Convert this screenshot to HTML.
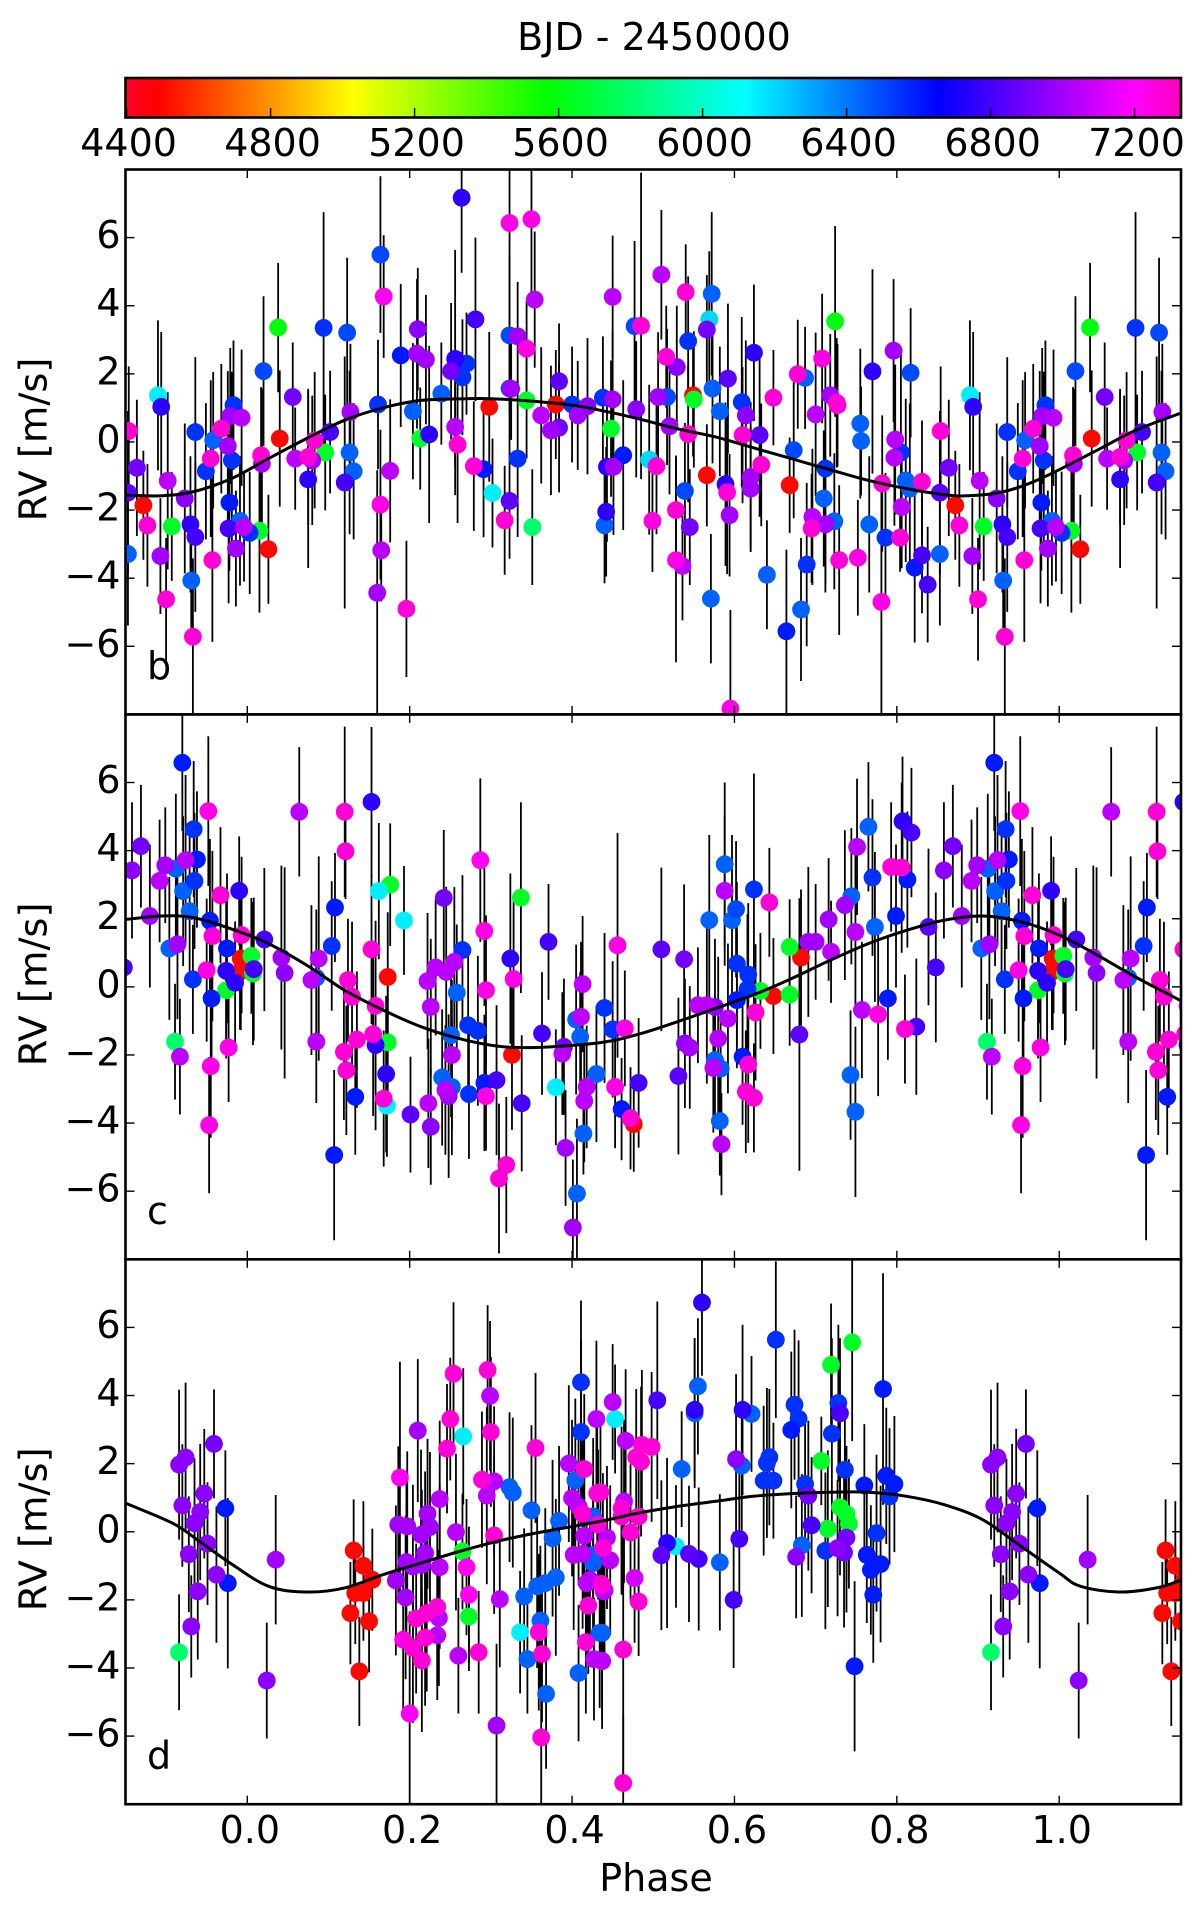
<!DOCTYPE html>
<html lang="en">
<head>
<meta charset="utf-8">
<title>RV residuals vs phase</title>
<style>
html,body{margin:0;padding:0;background:#fff;}
svg{display:block;}
text{font-family:"DejaVu Sans","Liberation Sans",sans-serif;fill:#000;}
</style>
</head>
<body>
<svg id="chart" xmlns="http://www.w3.org/2000/svg" width="1200" height="1918" viewBox="0 0 1200 1918">
<defs>
<linearGradient id="cbar-grad" x1="0" x2="1" y1="0" y2="0">
<stop offset="0" stop-color="#ff0029"/>
<stop offset="0.03" stop-color="#ff0000"/>
<stop offset="0.215" stop-color="#ffff00"/>
<stop offset="0.4" stop-color="#00ff00"/>
<stop offset="0.586" stop-color="#00ffff"/>
<stop offset="0.77" stop-color="#0000ff"/>
<stop offset="0.954" stop-color="#ff00ff"/>
<stop offset="1" stop-color="#ff00bf"/>
</linearGradient>
</defs>
<text x="654" y="50" font-size="38" text-anchor="middle">BJD - 2450000</text>
<rect x="125.5" y="78" width="1055.5" height="39.5" fill="url(#cbar-grad)" stroke="#000" stroke-width="2.6"/>
<g id="cbar-ticks"></g>
<g id="panels"></g>
<text x="656" y="1891" font-size="38" text-anchor="middle">Phase</text>
</svg>
<script>
const phaseB=[.038,.02,.056,.094,.123,.164,.168,.189,.21,.209,
.22,.239,.251,.256,.27,.265,.264,.281,.323,.35,
.354,.323,.333,.344,.323,.325,.344,.384,.38,.4,
.419,.438,.45,.45,.477,.485,.51,.54,.572,.569,
.566,.543,.516,.529,.592,.624,.678,.687,.708,.724,
.77,.796,.817,.89,.506,.517,.549,.55,.573,.609,
.648,.718,.726,.442,.44,.443,.451,.448,.463,.479,
.495,.504,.499,.52,.543,.528,.545,.539,.566,.589,
.591,.594,.528,.536,.571,.582,.614,.61,.631,.62,
.62,.633,.668,.673,.64,.7,.712,.71,.696,.695,
.712,.723,.689,.682,.664,.729,.752,.727,.755,.756,
.766,.782,.786,.804,.781,.798,.797,.805,.811,.816,
.806,.831,.854,.864,.853,.872,.877,.853,.831,.822,
.838,.894,.902,.907,.893,.9,.923,.93,.936,.931,
.933,.936,.958,.968,.979,.993,.983,.976,.955,.949,
.981,.978,.991,.977,.996,.003,.015,.986,.957,.017,
.018,.04,.026,.059,.075,.08,.083,.102,.096,.075,
.126,.131,.12,.127,.161,.164,.176,.165,.16,.196,
.204,.213,.224,.256,.259,.298,.279,.291,.333,.302,
.323,.317,.351,.362,.374,.384,.407,.595];
const rvB=[3.36,2.08,1.32,3.35,3.21,5.5,4.27,2.54,3.31,2.59,
2.42,1.42,2.08,2.44,2.3,1.9,7.17,3.6,6.43,6.54,
4.18,3.13,3.1,2.74,1.57,1.56,1.22,1.78,1.1,1.1,
1.05,1.3,1.25,4.26,3.4,3.41,4.91,4.4,4.35,3.6,
3.3,2.96,2.5,2.2,1.86,2.62,1.99,1.88,2.45,3.54,
2.07,2.68,2.03,1.37,1.32,1.32,1.37,1.25,1.57,1.17,
1.3,1.37,1.15,-2.05,-2.45,-.73,-.73,.39,-.39,.96,
-.52,-.71,-2.32,.46,.23,-2,-2.5,-1.44,-.98,-1.24,
-1.48,-2.15,-3.47,-3.64,-4.6,.9,.78,.2,.2,-1.03,
-1.37,-.67,-1.27,-.24,-3.9,.81,-.78,-1.66,-2.2,-2.54,
-2.42,-2.33,-3.6,-4.92,-5.56,-3.47,-3.4,1.08,.54,.03,
-2.42,-1.22,-2.81,-2.81,-4.7,.07,-.46,-.31,-1.13,-1.37,
-1.91,-1.17,.32,-.76,-1.49,-1.86,-2.45,-3.29,-3.33,-3.69,
-4.19,1.03,-1.14,-2.48,-3.35,-4.62,-1.66,-2.42,-2.79,-4.07,
-5.72,.29,.05,.39,.76,.71,1.08,-.12,-.49,-.86,
-.54,-1.78,-2.32,-2.54,-2.5,-2.67,-2.61,-3.13,-3.47,-.39,
-.64,.1,-3.15,-.49,-.44,-.54,.05,.29,-.31,-1.1,
-.31,-.86,-1.19,.88,1.1,-1.84,-.85,-3.18,-4.43,-4.9,
.9,.1,.22,.44,-.08,1.03,-.71,-.8,-.49,-1.5,
-1.73,-2.3,-2.5,.78,.34,.42,.78,-7.83];
const errB=[1.9,2.2,1.6,3.4,2.2,2.3,1.8,2.1,1.8,2.2,
1.9,1.5,2,3.2,1.5,1.7,2.2,2.4,3,2.5,
2,2.3,1.6,1.4,1.6,1.5,1.7,1.7,1.6,1.7,
2,1.8,2,1.8,2.5,4.5,1.9,1.4,2.4,2,
1.6,1.9,1.5,1.8,2.2,2,1.6,1.5,1.9,2.8,
3,2.1,1.9,2.2,1.9,2,1.8,2,2.2,2.5,
1.4,1.8,1.9,1.9,1.7,2.2,2,2,2.2,2,
2.2,2,1.5,2,2,1.6,1.7,2,1.5,2.4,
2.4,1.8,3,1.6,1.9,1.9,2.2,2,2.4,2.2,
1.8,1.8,1.4,2,1.6,2.4,3.4,2,2,1.6,
2,2,2.4,2.1,2.4,2.2,1.7,1.8,2.2,1.6,
2,2,1.9,1,3.3,2.2,2,3,2.4,2.5,
1.8,1.8,1.9,2,2.4,1.6,1.8,2.1,1.7,2.2,
1.7,2.2,2.6,1.6,1.7,1.8,2.2,2,2.2,1.4,
2.3,2.2,2,1.9,2,2,1.9,2.2,2.3,2,
2.6,2,1.9,2.2,1.6,1.8,2.4,1.7,2.4,2,
2.2,2,1.6,1.5,2,1.9,2,1.8,1.7,2.6,
2.4,2,3.7,2,1.9,2.2,2.1,1.5,3.6,2,
2,1.5,2.6,2,2.3,2.2,1.9,2,2.3,1.6,
1.7,1.6,1.7,2,1.9,1.9,1.6,2.9];
const bjdB=[5600,6500,6900,6550,6500,6500,7220,6600,6950,7000,
7000,6450,6900,6750,6550,6550,6750,6800,7250,7250,
7050,6500,7000,7250,6500,7000,5650,6850,4500,6550,
6950,6550,7000,7050,6500,7280,7050,7280,6450,6200,
6900,6550,7280,6950,6850,6750,7280,6450,7250,5600,
6750,7000,6500,6150,7000,6500,4500,5650,6450,6550,
7280,7000,7280,6750,6450,6750,7000,5650,6600,6950,
6200,7280,7250,7000,7280,7280,6900,6500,4500,6750,
7280,7000,7250,7050,6450,6450,6950,7280,6850,7000,
7000,7280,4500,6500,6450,7050,6550,6450,7050,7280,
7000,6450,6550,6450,6600,7280,7250,7280,6450,6450,
6450,7280,6550,7280,7250,7050,7050,6550,6450,6450,
7050,7280,7280,6900,6850,4500,7280,6450,6800,6600,
6800,6750,7050,5650,7000,7280,6950,6750,6800,6450,
7280,6550,6450,7280,7000,7050,6550,7000,7280,6550,
6550,6600,6450,6800,7050,6550,5650,7000,7280,7280,
7000,4500,4500,7050,7280,7000,7280,6800,5650,6750,
6450,6450,6800,7000,6550,7250,7050,7050,7000,7280,
6450,5650,6750,7050,7280,4500,7280,6600,6550,6150,
6850,7280,5800,7050,7000,6900,7000,7250];

const phaseC=[.021,.042,.046,.064,.085,.085,.079,.088,.104,.108,
.107,.119,.122,.12,.121,.124,.129,.135,.133,.153,
.153,.158,.155,.158,.162,.176,.173,.173,.171,.168,
.172,.193,.201,.222,.232,.245,.255,.226,.223,.226,
.242,.265,.258,.251,.272,.284,.252,.24,.252,.244,
.248,.273,.292,.307,.294,.287,.292,.294,.326,.324,
.328,.337,.338,.31,.319,.371,.363,.39,.388,.38,
.413,.411,.405,.41,.418,.415,.43,.414,.392,.406,
.401,.44,.45,.465,.456,.51,.453,.482,.461,.472,
.476,.538,.555,.566,.576,.592,.539,.545,.58,.531,
.569,.588,.588,.597,.602,.624,.643,.603,.617,.616,
.603,.632,.648,.626,.668,.668,.682,.68,.61,.576,
.583,.574,.617,.614,.624,.582,.584,.691,.7,.719,
.716,.736,.744,.749,.751,.765,.77,.773,.757,.777,
.789,.743,.749,.793,.806,.807,.818,.813,.799,.81,
.824,.839,.858,.869,.848,.88,.892,.899,.912,.924,
.938,.935,.921,.929,.954,.92,.934,.952,.967,.99,
.957,.904,.914,.975,.993,.95,.933,.956,.974,.985,
.974,.992,.991,.005,.008,.007,.911,.917,.955,.977,
.953];
const rvC=[1.39,.86,.41,5.14,-1.61,.27,.2,.83,1.2,2.33,
-4.94,-1.91,-2.45,5.14,3.98,.2,-.29,-1.55,-3.23,5.43,
1.1,-.56,-1.39,-1.71,2.81,3,.29,-1.63,-2.56,-3.28,
-3.49,1.95,-3.75,.17,.57,.44,.73,-.59,-3.42,-4.11,
2.61,1.08,-.17,-1.42,-1.13,-1.29,-2,-2.66,-2.94,-3.03,
-3.21,-3.15,-2.82,-2.74,-3.21,3.72,1.64,-.1,-2,.83,
.23,2.62,-3.42,-5.63,-5.23,1.32,-1.37,-1.76,-1.96,-2.95,
.08,-.88,-.96,-1.47,-2.94,-3.35,-2.56,-4.31,-4.73,-6.07,
-7.07,-.62,-1.25,-1.22,1.22,1.1,-2.94,-2.82,-3.59,-3.86,
-4.03,.81,-.54,-.54,-.59,-.93,-1.66,-1.78,-1.52,-2.62,
1.96,3.6,2.82,1.96,2.28,2.86,2.48,.68,.36,-.07,
-.39,-.12,-.27,-.75,1.17,-.23,.86,-1.4,-2.05,-2.15,
-2.4,-2.38,-2.28,-3.08,-3.26,-3.94,-4.62,1.32,1.32,1.03,
1.98,2.4,2.66,1.61,4.11,4.7,3.21,1.76,-.68,-.81,
-.34,-2.59,-3.67,3.52,3.5,4.86,4.53,3.15,2.08,-1.24,
-1.17,1.76,3.42,4.13,.57,2.08,3.11,3.57,3.47,3.72,
3.74,3.11,2.81,2.22,1.94,6.58,4.63,5.16,2.69,2.82,
1.49,1.13,1.25,1.13,1.52,.49,.22,-.34,.47,.12,
-.1,.83,.44,.91,.52,.39,-1.61,-2.05,-2.33,-1.78,
-4.06];
const errC=[2.1,2.7,3.1,1.9,1.8,2,2.2,3,1.9,1.6,
2.5,2,1.9,2.5,1.4,1.8,2.2,2,1.7,2.2,
2.2,2.5,2.4,2.5,2,1.8,1.9,1.8,2.3,2,
1.5,1.6,1.7,2,2,2.5,2.2,2,1.9,1.7,
2,2.2,2,2.4,2.2,2.2,2.2,2,2,1.9,
2.4,1.9,2,2.2,1.6,2.4,2.2,2.2,2.2,2.5,
2.4,2.8,2,2.2,2,1.7,1.8,2,1.8,1.7,
2,2.2,2.2,1.9,1.8,1.8,2,1.2,1.7,2.2,
2,2.2,2,1.7,3.3,2.4,1.8,1.9,1.5,1.5,
1.4,2.2,1.7,2.3,2,2.2,1.9,1.8,2.4,2.3,
2.5,2.4,2.2,2.5,2,3.4,1.6,2.4,2.1,2.2,
2,1.7,1.7,2,1.4,1.5,2,4,2,1.9,
2,1.9,2.3,1.8,1.6,1.6,1.5,2.2,1.7,1.5,
1.8,2.2,2,2.3,2,1.9,2.3,2.2,2,2.4,
1.8,1.9,2.5,1.9,2.5,1.9,1.9,2,2.1,1.6,
2,2.3,2,1.8,2.2,2.1,1.8,1.7,2.2,2.5,
2,2,2.2,2.2,2.4,2,2,2.2,2,1.6,
2.5,2.1,2.2,2.2,2.3,2.1,1.6,2,2.2,1.8,
2,2.1,1.7,1.7,2.1,2.1,1.7,1.7,2.1,1.6,
2];
const bjdC=[6800,7000,6950,7050,7050,6450,7050,7050,6550,6600,
6600,7280,7280,7280,7280,7280,7280,7280,6600,6750,
7280,7280,7280,6750,6150,5650,4500,5650,6750,7280,
6150,6150,6850,7050,7050,7050,7050,7050,7050,6950,
6900,6550,6450,6450,6550,6550,7050,6450,6450,7050,
7000,6550,6600,6800,7250,7220,7250,7250,4500,6750,
7250,5650,6800,7280,7280,6800,6800,6900,7050,6150,
7050,7050,6450,6450,7050,7050,6450,6450,7000,6450,
7000,6550,6550,7250,7250,6850,7250,6800,6600,7280,
4500,6900,7050,7050,6950,7050,6950,7000,7050,6850,
6450,6450,7050,6450,6500,6550,7280,6550,6550,6550,
6600,5650,4500,7280,5650,5650,4500,6850,6600,6450,
6450,7050,7280,7280,7280,6450,7050,7000,7000,7050,
7000,7000,6450,7050,7050,6450,6550,6450,7050,7250,
6600,6450,6450,7280,7280,6750,6800,6600,6600,7280,
6800,6850,6950,6900,6800,7000,7050,7000,6450,7050,
6600,6550,6450,6450,6600,6600,6550,7250,7280,6750,
7280,6450,7000,6600,7280,7250,6550,6600,6750,6750,
5650,4500,4500,5650,6800,5650,5800,7050,7250,7250,
7250];

const phaseD=[.56,.555,.551,.551,.505,.45,.453,.466,.486,.498,
.479,.485,.535,.602,.609,.61,.621,.651,.674,.679,
.67,.643,.64,.636,.648,.687,.691,.707,.719,.745,
.728,.73,.72,.736,.76,.787,.797,.791,.783,.73,
.738,.741,.715,.695,.775,.738,.727,.735,.683,.676,
.712,.763,.78,.768,.771,.748,.606,.599,.582,.544,
.556,.517,.51,.528,.477,.482,.447,.482,.461,.464,
.461,.472,.438,.437,.44,.437,.435,.463,.463,.437,
.916,.924,.959,.973,.92,.947,.942,.935,.951,.928,
.962,.976,.939,.931,.916,.035,.024,.131,.143,.154,
.133,.143,.127,.15,.138,.188,.21,.25,.246,.266,
.3,.289,.304,.295,.323,.327,.355,.35,.384,.376,
.304,.237,.222,.186,.197,.225,.214,.257,.219,.196,
.204,.215,.237,.265,.27,.183,.195,.273,.311,.273,
.208,.221,.234,.236,.234,.219,.192,.204,.215,.26,
.285,.341,.357,.367,.38,.361,.336,.359,.345,.363,
.408,.396,.411,.415,.404,.43,.4,.408,.413,.431,
.426,.432,.415,.443,.402,.413,.426,.426,.422,.418,
.436,.439,.42,.434,.417,.427,.437,.296,.254,.299,
.411,.2,.307,.362,.368];
const rvD=[6.73,4.27,3.58,3.48,3.86,3.81,3.31,2.67,2.55,2.49,
2.19,2.06,1.84,2.13,1.94,3.58,3.46,5.64,3.73,3.32,
2.99,2.19,2.02,1.5,1.5,1.4,1.06,2.08,4.9,5.56,
3.78,3.48,2.88,1.82,1.36,1.64,1.4,1.04,4.19,.72,
.52,.23,.09,.19,-.04,-.17,-.48,-.61,-.4,-.74,
-.56,-.68,-.95,-1.12,-1.85,-3.95,-.21,-2,-.9,-.65,
-.8,-.33,-.69,-.43,-1.36,-2.05,-.84,.45,.69,.89,
.45,-.02,-.48,-1.56,-1.72,-2.97,1.16,-3.46,-7.38,-3.8,
1.97,2.18,2.58,.69,.77,1.12,.58,.25,-.35,-.66,
-1.26,-1.51,-1.75,-2.78,-3.54,-.82,-4.37,-.55,-1,-1.41,
-1.8,-1.8,-2.39,-2.63,-4.1,1.59,2.97,3.31,2.44,2.8,
2.93,1.53,1.48,1.06,1.31,1.15,2.46,.63,.32,-.19,
-.11,.96,.53,.21,.16,.14,-.09,-.01,-.63,-.89,
-1.02,-.97,-1.04,-.58,-1.04,-1.43,-1.93,-1.85,-1.98,-2.49,
-2.55,-2.39,-2.21,-2.53,-3.04,-3.11,-3.17,-3.41,-3.78,-3.64,
-3.54,-1.9,-1.6,-1.51,-1.34,-2.61,-2.95,-2.95,-3.74,-3.59,
-4.15,2,2.93,1.84,1.51,3.31,.99,.74,.53,1.13,
.45,.21,-.12,-.17,-.68,-.65,-.68,-.92,-1.41,-1.51,
-1.53,-1.75,-2.17,-2.97,-3.24,-3.74,-3.79,4.75,4.64,3.99,
4.39,-5.34,-5.69,-6.04,-4.76];
const errD=[2.15,2,2.1,2.2,2.9,1.7,1.6,2.1,2.2,2.2,
2,2.2,1.7,2.5,1.9,2.5,1.7,2.3,2.2,2.3,
2.3,2,2.2,2.2,1.7,2,2.2,1.3,1.8,2.9,
2.3,2.2,2.8,2,1.8,2,2,2,3.4,2,
2,1.9,2.3,2,2.3,2.2,2,2.2,2.1,1.8,
2.3,2,2.3,1.9,2,2.5,2,2,2,2,
2.1,2.5,2.2,1.8,1.9,1.6,2.2,2.2,2.4,2.4,
2.3,2,2.2,2,2,2,2.2,3.8,2,1.7,
2.2,2.2,1.6,1.7,1.8,1.9,2,1.9,1.8,1.7,
2,2.5,2,1.5,1.7,1.9,1.7,1.5,1.9,1.5,
1.5,1.4,1.5,1.5,1.6,3.4,2.1,1.8,1.9,2,
2.2,2,2.2,2.6,2.2,2.2,2.2,2.5,2.2,2.3,
2.3,2.3,2.2,2.3,2.2,2.2,2.5,2.3,2.4,2.3,
2.4,2.2,2.4,1.7,2,2.2,2.4,2,2,1.6,
2.2,2.3,2.3,2,1.9,2,2.2,2.2,2.1,1.7,
1.8,2,2.4,2.2,2.3,2.2,1.8,2.3,1.6,2,
2,2.3,2.7,2.2,2.4,2.3,2.3,2.3,2.2,2.3,
2.3,2.2,2.2,2.1,2.2,2.2,2.2,2.2,2,2.1,
2,2.1,2,2.2,2.1,1.8,2,1.9,2.1,2.2,
2.4,3,2.4,2.2,2.2];
const bjdD=[6750,6450,6750,6450,6800,7050,6150,7050,7280,7280,
7280,7280,6450,6950,6450,6750,6450,6550,6550,6550,
6600,6550,6550,6550,6550,6550,6900,5650,5650,5650,
6550,6800,6550,6550,6600,6600,6600,6550,6600,5650,
5650,5650,5650,6800,6550,6900,6950,6900,6450,6950,
6550,6600,6600,6600,6600,6600,6800,6800,6450,6850,
6800,6750,6850,6150,7100,7280,7050,7280,7280,7050,
7280,7280,7280,7280,7050,6450,7250,7280,7280,7050,
6950,6950,6900,6600,6950,6950,6950,6950,6950,6950,
6950,6600,6950,6950,5800,7000,6950,4500,4500,4500,
4500,4500,4500,4500,4500,7220,7000,7280,7280,6150,
7280,7280,7050,7050,6450,6450,7280,6450,6450,6450,
7280,7050,7000,7000,7000,7000,7000,7050,7000,7000,
7000,7000,7050,5650,7220,7000,7000,7220,7050,5650,
7280,7280,7280,7050,7050,7280,7250,7280,7280,7050,
7280,6450,6450,6450,6450,6450,6150,7280,6450,7280,
6450,7050,6550,7280,6450,7050,7050,7050,7280,7280,
6450,7280,7050,7050,7050,7050,6450,6450,7050,7050,
7280,7050,7280,6450,7280,7050,7050,7280,7280,7050,
6550,7220,7000,7280,6450];

const curvePhaseB=[-.15,-.106,-.068,-.02,.026,.073,.12,.167,.214,.27,.3,.35,.4,.435,.482,.529,.576,.623,.67,.717,.765,.812,.859,.887,.93,.977,1.047,1.094,1.15];
const curveRvB=[-1.57,-1.58,-1.47,-1.08,-.49,.1,.64,1,1.22,1.27,1.27,1.2,1.08,.93,.68,.39,.15,-.17,-.49,-.81,-1.13,-1.37,-1.55,-1.58,-1.47,-1.08,-.24,.34,.85];
const curvePhaseC=[-.15,-.106,-.068,-.021,.026,.073,.12,.167,.214,.261,.308,.355,.434,.482,.529,.576,.623,.67,.718,.765,.812,.859,.906,.953,1,1.047,1.094,1.15];
const curveRvC=[1.98,2.08,2.04,1.71,1.27,.64,-.1,-.68,-1.17,-1.52,-1.74,-1.78,-1.64,-1.39,-1.03,-.64,-.24,.24,.78,1.27,1.66,1.96,2.08,1.91,1.52,.93,.29,-.41];
const curvePhaseD=[-.15,-.092,-.059,-.021,.026,.073,.12,.167,.214,.261,.308,.355,.434,.482,.529,.576,.623,.67,.718,.765,.812,.859,.906,.953,1,1.026,1.073,1.12,1.15];
const curveRvD=[.84,.25,-.28,-.92,-1.6,-1.77,-1.65,-1.26,-.92,-.58,-.28,-.04,.3,.55,.74,.89,1.04,1.12,1.16,1.16,1.04,.79,.35,-.43,-1.21,-1.6,-1.77,-1.65,-1.42];

const phaseTicks=["0.0","0.2","0.4","0.6","0.8","1.0"];
const rvTicks=[-6,-4,-2,0,2,4,6];
const bjdTicks=[4400,4800,5200,5600,6000,6400,6800,7200];
const panelLabels=["b","c","d"];

const NS="http://www.w3.org/2000/svg";
const PLOT_L=125.5,PLOT_R=1181;
const PHASE_MIN=-0.15,PHASE_MAX=1.15;
const RV_MAX=8;
const PANEL_TOPS=[169.5,714.4,1259.3];
const PANEL_H=544.9;
const BJD_MIN=4397,BJD_MAX=7329;
const CMAP=[[0,255,0,41],[.03,255,0,0],[.215,255,255,0],[.4,0,255,0],[.586,0,255,255],[.77,0,0,255],[.954,255,0,255],[1,255,0,191]];

function xOf(p){return PLOT_L+(p-PHASE_MIN)/(PHASE_MAX-PHASE_MIN)*(PLOT_R-PLOT_L);}
function yOf(v,top){return top+(RV_MAX-v)/(2*RV_MAX)*PANEL_H;}
function bjdX(b){return PLOT_L+(b-BJD_MIN)/(BJD_MAX-BJD_MIN)*(PLOT_R-PLOT_L);}
function colorOf(b){
  const t=Math.min(1,Math.max(0,(b-BJD_MIN)/(BJD_MAX-BJD_MIN)));
  for(let i=1;i<CMAP.length;i++){
    if(t<=CMAP[i][0]){
      const a=CMAP[i-1],c=CMAP[i],f=(t-a[0])/(c[0]-a[0]);
      return "rgb("+Math.round(a[1]+(c[1]-a[1])*f)+","+Math.round(a[2]+(c[2]-a[2])*f)+","+Math.round(a[3]+(c[3]-a[3])*f)+")";
    }
  }
  return "rgb(255,0,191)";
}
function mk(tag,parent,attrs){
  const el=document.createElementNS(NS,tag);
  for(const k in attrs)el.setAttribute(k,attrs[k]);
  parent.appendChild(el);
  return el;
}
function smoothPath(px,py){
  let d="M"+px[0].toFixed(1)+" "+py[0].toFixed(1);
  for(let i=0;i<px.length-1;i++){
    const i0=Math.max(0,i-1),i3=Math.min(px.length-1,i+2);
    const c1x=px[i]+(px[i+1]-px[i0])/6,c1y=py[i]+(py[i+1]-py[i0])/6;
    const c2x=px[i+1]-(px[i3]-px[i])/6,c2y=py[i+1]-(py[i3]-py[i])/6;
    d+=" C"+c1x.toFixed(1)+" "+c1y.toFixed(1)+" "+c2x.toFixed(1)+" "+c2y.toFixed(1)+" "+px[i+1].toFixed(1)+" "+py[i+1].toFixed(1);
  }
  return d;
}

const cbarTicks=document.getElementById("cbar-ticks");
bjdTicks.forEach(function(b){
  const x=bjdX(b);
  const tick=mk("line",cbarTicks,{x1:x,x2:x,y1:108,y2:117,stroke:"#000","stroke-width":1.4});
  
  
  const lab=mk("text",cbarTicks,{x:x+2,y:156,"font-size":38,"text-anchor":"middle"});
  lab.textContent=String(b);
  
  
});

const panelRoot=document.getElementById("panels");
const svgDefs=document.querySelector("defs");
const series=[
 {ph:phaseB,rv:rvB,err:errB,bjd:bjdB,cp:curvePhaseB,cv:curveRvB},
 {ph:phaseC,rv:rvC,err:errC,bjd:bjdC,cp:curvePhaseC,cv:curveRvC},
 {ph:phaseD,rv:rvD,err:errD,bjd:bjdD,cp:curvePhaseD,cv:curveRvD}
];
series.forEach(function(s,pi){
  const top=PANEL_TOPS[pi];
  const g=mk("g",panelRoot,{});
  
  
  const clip=mk("clipPath",svgDefs,{id:"clip"+pi});
  mk("rect",clip,{x:PLOT_L,y:top,width:PLOT_R-PLOT_L,height:PANEL_H});
  const plot=mk("g",g,{"clip-path":"url(#clip"+pi+")"});
  
  
  const order=s.ph.map(function(_,i){return i;}).sort(function(a,b){return s.bjd[a]-s.bjd[b];});
  const bars=mk("g",plot,{stroke:"#000","stroke-width":1.8});
  
  
  const dots=mk("g",plot,{});
  
  
  order.forEach(function(i){
    [-1,0,1].forEach(function(k){
      const p=s.ph[i]+k;
      if(p<PHASE_MIN-0.02||p>PHASE_MAX+0.02)return;
      const x=xOf(p);
      const bar=mk("line",bars,{x1:x,x2:x,y1:yOf(s.rv[i]+s.err[i],top),y2:yOf(s.rv[i]-s.err[i],top)});
      
      
      const dot=mk("circle",dots,{cx:x,cy:yOf(s.rv[i],top),r:8.9,fill:colorOf(s.bjd[i])});
      
      
    });
  });
  const curve=mk("path",plot,{d:smoothPath(s.cp.map(xOf),s.cv.map(function(v){return yOf(v,top);})),fill:"none",stroke:"#000","stroke-width":3});
  
  

  const frame=mk("rect",g,{x:PLOT_L,y:top,width:PLOT_R-PLOT_L,height:PANEL_H,fill:"none",stroke:"#000","stroke-width":2.6});
  
  

  phaseTicks.forEach(function(t){
    const x=xOf(parseFloat(t));
    [[top,top+8.5],[top+PANEL_H-8.5,top+PANEL_H]].forEach(function(yy){
      const tick=mk("line",g,{x1:x,x2:x,y1:yy[0],y2:yy[1],stroke:"#000","stroke-width":1.4});
      
      
    });
    if(pi===2){
      const lab=mk("text",g,{x:x+2.5,y:1843,"font-size":38,"text-anchor":"middle"});
      lab.textContent=t;
      
      
    }
  });
  rvTicks.forEach(function(v){
    const y=yOf(v,top);
    [[PLOT_L,PLOT_L+9],[PLOT_R-9,PLOT_R]].forEach(function(xx){
      const tick=mk("line",g,{x1:xx[0],x2:xx[1],y1:y,y2:y,stroke:"#000","stroke-width":1.4});
      
      
    });
    const lab=mk("text",g,{x:120.5,y:y+10.5,"font-size":38,"text-anchor":"end"});
    lab.textContent=(v<0?"\u2212":"")+Math.abs(v);
    
    
  });
  const ylab=mk("text",g,{x:0,y:0,"font-size":38.5,"text-anchor":"middle",transform:"translate(46.5,"+(top+270)+") rotate(-90)"});
  ylab.textContent="RV [m/s]";
  
  
  const plab=mk("text",g,{x:147,y:top+PANEL_H-35.5,"font-size":38});
  plab.textContent=panelLabels[pi];
  
  
});
</script>
</body>
</html>
